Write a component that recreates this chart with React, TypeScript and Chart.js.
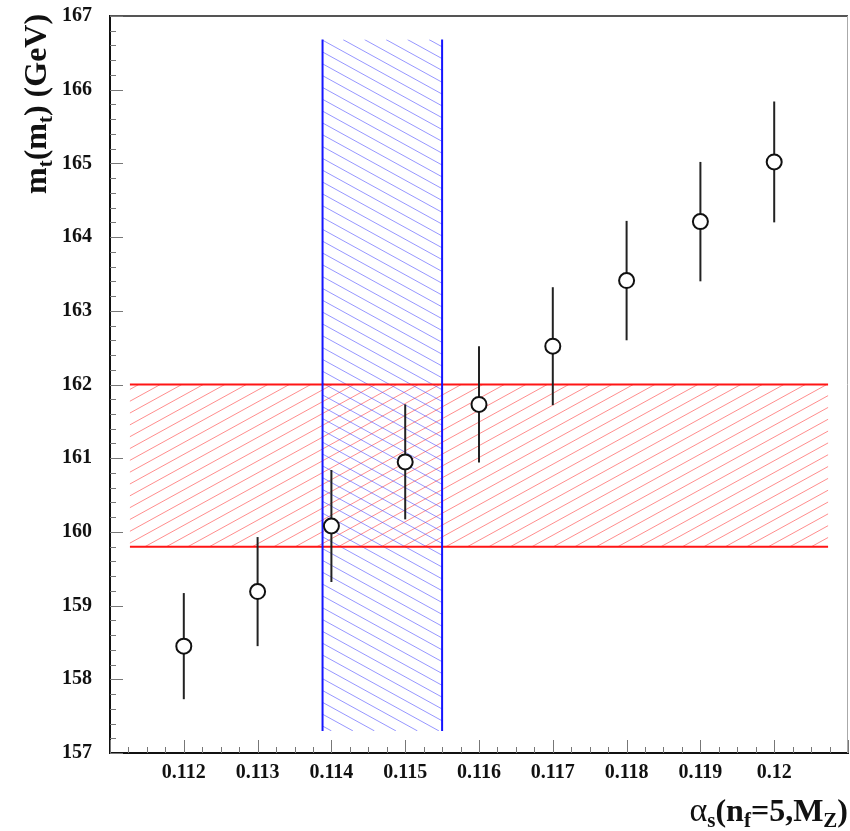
import React, { useEffect, useRef } from 'react';
import { Chart, registerables } from 'chart.js';
Chart.register(...registerables);

const alphaS = [0.112, 0.113, 0.114, 0.115, 0.116, 0.117, 0.118, 0.119, 0.12];
const mtValues = [158.45, 159.19, 160.08, 160.95, 161.73, 162.52, 163.41, 164.21, 165.02];
const mtErrors = [0.72, 0.74, 0.76, 0.78, 0.79, 0.8, 0.81, 0.81, 0.82];
const xTickValues = [0.112, 0.113, 0.114, 0.115, 0.116, 0.117, 0.118, 0.119, 0.12];
const xTickLabels = ['0.112', '0.113', '0.114', '0.115', '0.116', '0.117', '0.118', '0.119', '0.12'];
const yTickValues = [157, 158, 159, 160, 161, 162, 163, 164, 165, 166, 167];
const redBandX = [0.11127, 0.12073];
const redBandY = [159.8, 162.0];
const blueBandX = [0.11388, 0.1155];
const blueBandY = [157.3, 166.68];

const SERIF = "'Liberation Serif', 'DejaVu Serif', serif";

type Part = { t: string; font: string; dy: number };

function richWidth(ctx: CanvasRenderingContext2D, parts: Part[]) {
  let w = 0;
  for (const p of parts) {
    ctx.font = p.font;
    w += ctx.measureText(p.t).width;
  }
  return w;
}

function drawRich(ctx: CanvasRenderingContext2D, parts: Part[], x: number, y: number) {
  let cx = x;
  for (const p of parts) {
    ctx.font = p.font;
    ctx.fillText(p.t, cx, y + p.dy);
    cx += ctx.measureText(p.t).width;
  }
}

function hatch(
  ctx: CanvasRenderingContext2D,
  x0: number, y0: number, x1: number, y1: number,
  dir: 'down' | 'up', spacing: number, slope: number, color: string, anchor: number
) {
  ctx.save();
  ctx.beginPath();
  ctx.rect(x0, y0, x1 - x0, y1 - y0);
  ctx.clip();
  ctx.strokeStyle = color;
  ctx.lineWidth = 1;
  const h = y1 - y0;
  const run = h / slope;
  let start = anchor;
  while (start > x0 - run - spacing) start -= spacing;
  for (let c = start; c <= x1 + spacing; c += spacing) {
    ctx.beginPath();
    if (dir === 'down') {
      ctx.moveTo(c, y0);
      ctx.lineTo(c + run, y1);
    } else {
      ctx.moveTo(c, y1);
      ctx.lineTo(c + run, y0);
    }
    ctx.stroke();
  }
  ctx.restore();
}

const customPlugin = {
  id: 'customDraw',
  beforeDatasetsDraw(chart: any) {
    const ctx: CanvasRenderingContext2D = chart.ctx;
    const xs = chart.scales.x;
    const ys = chart.scales.y;
    // red band
    const rx0 = xs.getPixelForValue(redBandX[0]);
    const rx1 = xs.getPixelForValue(redBandX[1]);
    const ry0 = ys.getPixelForValue(redBandY[1]);
    const ry1 = ys.getPixelForValue(redBandY[0]);
    hatch(ctx, rx0, ry0, rx1, ry1, 'up', 21.5, 0.55, 'rgba(255,80,80,0.65)', 145);
    // blue band
    const bx0 = xs.getPixelForValue(blueBandX[0]);
    const bx1 = xs.getPixelForValue(blueBandX[1]);
    const by0 = ys.getPixelForValue(blueBandY[1]);
    const by1 = ys.getPixelForValue(blueBandY[0]);
    hatch(ctx, bx0, by0, bx1, by1, 'down', 21.5, 0.55, 'rgba(80,80,255,0.6)', 343);
    ctx.save();
    ctx.lineWidth = 2;
    ctx.strokeStyle = '#ff1515';
    ctx.beginPath();
    ctx.moveTo(rx0, ry0); ctx.lineTo(rx1, ry0);
    ctx.moveTo(rx0, ry1); ctx.lineTo(rx1, ry1);
    ctx.stroke();
    ctx.strokeStyle = '#1515ff';
    ctx.beginPath();
    ctx.moveTo(bx0, by0); ctx.lineTo(bx0, by1);
    ctx.moveTo(bx1, by0); ctx.lineTo(bx1, by1);
    ctx.stroke();
    // error bars
    ctx.strokeStyle = '#222';
    ctx.lineWidth = 2;
    for (let i = 0; i < alphaS.length; i++) {
      const px = xs.getPixelForValue(alphaS[i]);
      const top = ys.getPixelForValue(mtValues[i] + mtErrors[i]);
      const bot = ys.getPixelForValue(mtValues[i] - mtErrors[i]);
      ctx.beginPath();
      ctx.moveTo(px, top);
      ctx.lineTo(px, bot);
      ctx.stroke();
    }
    ctx.restore();
  },
  afterDraw(chart: any) {
    const ctx: CanvasRenderingContext2D = chart.ctx;
    const xs = chart.scales.x;
    const ys = chart.scales.y;
    const { left, right, top, bottom } = chart.chartArea;
    ctx.save();
    // frame top/right
    ctx.strokeStyle = '#555';
    ctx.lineWidth = 2;
    ctx.beginPath();
    ctx.moveTo(left, top);
    ctx.lineTo(right, top);
    ctx.stroke();
    ctx.strokeStyle = '#aaa';
    ctx.lineWidth = 1;
    ctx.beginPath();
    ctx.moveTo(right - 0.5, top);
    ctx.lineTo(right - 0.5, bottom);
    ctx.stroke();
    // inward ticks
    ctx.strokeStyle = '#777';
    ctx.lineWidth = 1;
    ctx.beginPath();
    for (let v = ys.min; v <= ys.max + 1e-9; v += 0.2) {
      const py = Math.round(ys.getPixelForValue(v)) + 0.5;
      const major = Math.abs(v - Math.round(v)) < 1e-6;
      ctx.moveTo(left, py);
      ctx.lineTo(left + (major ? 13 : 6), py);
    }
    for (let k = 0; k <= 40; k++) {
      const v = xs.min + k * 0.00025;
      const px = Math.round(xs.getPixelForValue(v)) + 0.5;
      const major = k % 4 === 0;
      ctx.moveTo(px, bottom);
      ctx.lineTo(px, bottom - (major ? 13 : 6));
    }
    ctx.stroke();
    // x title
    ctx.fillStyle = '#111';
    ctx.textBaseline = 'alphabetic';
    ctx.textAlign = 'left';
    const big = `bold 32px ${SERIF}`;
    const sub = `bold 21px ${SERIF}`;
    const xParts: Part[] = [
      { t: 'α', font: `34px ${SERIF}`, dy: 0 },
      { t: 's', font: sub, dy: 6 },
      { t: '(n', font: big, dy: 0 },
      { t: 'f', font: sub, dy: 6 },
      { t: '=5,M', font: big, dy: 0 },
      { t: 'Z', font: sub, dy: 6 },
      { t: ')', font: big, dy: 0 },
    ];
    const xw = richWidth(ctx, xParts);
    drawRich(ctx, xParts, 848 - xw, 821);
    // y title
    const yParts: Part[] = [
      { t: 'm', font: big, dy: 0 },
      { t: 't', font: sub, dy: 6 },
      { t: '(m', font: big, dy: 0 },
      { t: 't', font: sub, dy: 6 },
      { t: ') (GeV)', font: big, dy: 0 },
    ];
    ctx.translate(46, 194);
    ctx.rotate(-Math.PI / 2);
    drawRich(ctx, yParts, 0, 0);
    ctx.restore();
  },
};

export default function App() {
  const ref = useRef<HTMLCanvasElement | null>(null);
  useEffect(() => {
    if (!ref.current) return;
    const chart = new Chart(ref.current, {
      type: 'scatter',
      data: {
        datasets: [
          {
            label: 'mt',
            data: alphaS.map((x, i) => ({ x, y: mtValues[i] })),
            pointRadius: 7.5,
            pointHoverRadius: 7.5,
            pointBorderWidth: 2,
            borderColor: '#111',
            backgroundColor: '#fff',
            pointStyle: 'circle',
          },
        ],
      },
      options: {
        animation: false,
        responsive: false,
        devicePixelRatio: 1,
        layout: { autoPadding: false, padding: { top: 16, right: 2, left: 0, bottom: 0 } },
        plugins: { legend: { display: false }, tooltip: { enabled: false }, title: { display: false } },
        scales: {
          x: {
            type: 'linear',
            min: 0.111,
            max: 0.121,
            grid: { display: false, drawTicks: false },
            border: { display: true, color: '#111', width: 2 },
            afterBuildTicks: (scale: any) => {
              scale.ticks = xTickValues.map((v) => ({ value: v }));
            },
            afterFit: (scale: any) => {
              scale.height = 78;
              scale.paddingLeft = 0;
              scale.paddingRight = 0;
              scale.paddingTop = 0;
              scale.paddingBottom = 0;
            },
            ticks: {
              padding: 8,
              maxRotation: 0,
              autoSkip: false,
              color: '#111',
              font: { family: SERIF, size: 20, weight: 'bold' },
              callback: (v: any) => {
                const i = xTickValues.findIndex((t) => Math.abs(t - Number(v)) < 1e-9);
                return i >= 0 ? xTickLabels[i] : '';
              },
            },
          },
          y: {
            type: 'linear',
            min: 157,
            max: 167,
            grid: { display: false, drawTicks: false },
            border: { display: true, color: '#111', width: 2 },
            afterBuildTicks: (scale: any) => {
              scale.ticks = yTickValues.map((v) => ({ value: v }));
            },
            afterFit: (scale: any) => {
              scale.width = 110;
              scale.paddingLeft = 0;
              scale.paddingRight = 0;
              scale.paddingTop = 0;
              scale.paddingBottom = 0;
            },
            ticks: {
              padding: 18,
              autoSkip: false,
              color: '#111',
              font: { family: SERIF, size: 20, weight: 'bold' },
              callback: (v: any) => String(v),
            },
          },
        },
      },
      plugins: [customPlugin],
    });
    return () => chart.destroy();
  }, []);
  return (
    <div style={{ position: 'absolute', left: 0, top: 0, width: 850, height: 831, background: '#fff' }}>
      <canvas ref={ref} width={850} height={831} style={{ display: 'block' }} />
    </div>
  );
}
